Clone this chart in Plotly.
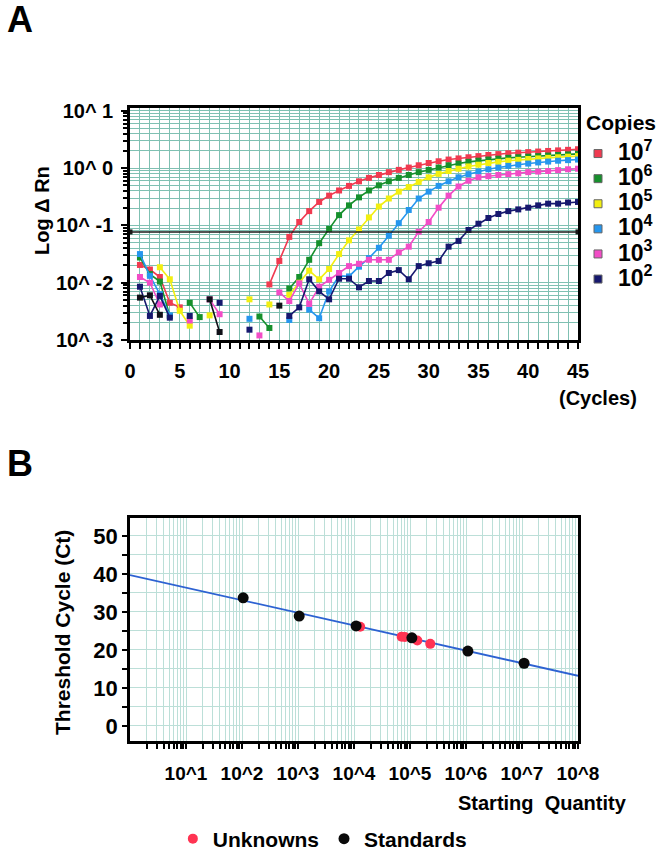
import plotly.graph_objects as go

W, H = 666, 853
N = None

# ---------------- Panel A data (log10 of delta Rn, read per cycle) ----------------
cycles = list(range(1, 46))
copies_labels = ["10<sup>7</sup>", "10<sup>6</sup>", "10<sup>5</sup>",
                 "10<sup>4</sup>", "10<sup>3</sup>", "10<sup>2</sup>"]
copies_colors = ["#f03a50", "#16902c", "#f2ef10", "#2596ee", "#f24cc6", "#16186e"]

log_rn_1e7 = [-1.69, -1.77, -1.90, -2.35, -2.43, N, N, N, N, N, N, N, N,
              -2.03, -1.62, -1.20, -0.94, -0.75, -0.59, -0.48, -0.39, -0.31, -0.23,
              -0.17, -0.12, -0.07, -0.03, 0.01, 0.05, 0.09, 0.12, 0.15, 0.17, 0.19,
              0.21, 0.23, 0.245, 0.26, 0.27, 0.28, 0.29, 0.30, 0.31, 0.32, 0.33]
log_rn_1e6 = [-1.56, -1.85, -1.98, -2.58, N, -2.35, -2.60, N, N, N, N, N,
              -2.59, -2.79, N, -2.10, -1.90, -1.60, -1.31, -1.06, -0.82, -0.65,
              -0.51, -0.39, -0.30, -0.23, -0.17, -0.12, -0.07, -0.03, 0.01, 0.05,
              0.08, 0.11, 0.13, 0.15, 0.165, 0.18, 0.19, 0.20, 0.21, 0.22, 0.23, 0.24, 0.25]
log_rn_1e5 = [N, N, -1.73, -1.94, -2.49, -2.75, N, -2.57, N, N, N, -2.29, N,
              -2.38, N, -2.21, -2.00, -1.79, -1.94, -1.76, -1.50, -1.26, -1.07,
              -0.86, -0.67, -0.53, -0.41, -0.33, -0.24, -0.16, -0.10, -0.05, -0.01,
              0.03, 0.06, 0.09, 0.11, 0.13, 0.145, 0.16, 0.17, 0.18, 0.19, 0.20, 0.21]
log_rn_1e4 = [-1.50, -1.88, -2.20, -2.57, N, N, N, N, N, N, N, -2.63, N, N, N,
              -2.65, N, -2.47, -2.62, -2.15, -1.88, -1.89, -1.72, -1.57, -1.39,
              -1.18, -0.96, -0.73, -0.53, -0.41, -0.31, -0.23, -0.16, -0.105, -0.06,
              -0.02, 0.01, 0.04, 0.06, 0.08, 0.10, 0.115, 0.13, 0.14, 0.15]
log_rn_1e3 = [-1.90, -2.00, -2.38, N, N, -2.66, N, -2.29, -2.55, N, N, N, -2.92,
              N, -2.17, -2.32, -2.01, -2.37, -2.07, -1.95, -1.83, -1.71, -1.67,
              -1.60, -1.60, -1.60, -1.47, -1.37, -1.11, -0.94, -0.69, -0.48, -0.32,
              -0.22, -0.16, -0.14, -0.12, -0.105, -0.09, -0.07, -0.06, -0.05, -0.035,
              -0.02, -0.01]
log_rn_1e2 = [-2.07, -2.58, -2.23, -2.61, N, -2.58, N, N, -2.35, N, N, -2.82,
              N, N, N, -2.58, -2.43, -1.94, -2.15, -2.29, -1.93, -1.93, -2.08,
              -1.97, -1.97, -1.83, -1.78, -1.94, -1.71, -1.66, -1.62, -1.37, -1.27,
              -1.08, -0.97, -0.87, -0.80, -0.75, -0.72, -0.69, -0.65, -0.62, -0.62,
              -0.60, -0.59]
log_rn_black = [-2.26, -2.22, -2.56, N, N, N, N, -2.29, -2.86, N, N, N, N, N,
                -2.40, N, N, N, N, N, N, N, N, N, N, N, N, N, N, N, N, N, N, N,
                N, N, N, N, N, N, N, N, N, N, N]
threshold_cycles = [0, 45]
threshold_rn = [0.077, 0.077]

# ---------------- Panel B data ----------------
std_qty = [1.05e2, 1.05e3, 1.09e4, 1.08e5, 1.08e6, 1.09e7]
std_ct = [33.7, 28.9, 26.3, 23.2, 19.7, 16.5]
unk_qty = [1.29e4, 7.1e4, 8.1e4, 1.35e5, 2.3e5]
unk_ct = [26.1, 23.5, 23.4, 22.5, 21.6]
fit_qty = [1.0, 1.0e8]
fit_ct = [39.7, 13.2]

FONT = "Liberation Sans, Arial, sans-serif"


def px(x):
    return x / W


def py(y):
    return 1 - y / H


def to_lin(vals):
    return [None if v is None else 10 ** v for v in vals]


fig = go.Figure()

series = [log_rn_1e7, log_rn_1e6, log_rn_1e5, log_rn_1e4, log_rn_1e3, log_rn_1e2]
for vals, col in zip(series, copies_colors):
    fig.add_trace(go.Scatter(
        x=cycles, y=to_lin(vals), mode="lines+markers", connectgaps=False,
        line=dict(color=col, width=1.6),
        marker=dict(symbol="square", size=6, color=col),
        showlegend=False, xaxis="x", yaxis="y", hoverinfo="skip"))
fig.add_trace(go.Scatter(
    x=cycles, y=to_lin(log_rn_black), mode="lines+markers", connectgaps=False,
    line=dict(color="#101018", width=1.6),
    marker=dict(symbol="square", size=6, color="#101018"),
    showlegend=False, xaxis="x", yaxis="y"))
fig.add_trace(go.Scatter(
    x=threshold_cycles, y=threshold_rn, mode="lines+markers",
    line=dict(color="#1a1a1a", width=1.6),
    marker=dict(symbol="square", size=5, color="#1a1a1a"),
    showlegend=False, xaxis="x", yaxis="y"))

# legend entries for panel A
for lab, col in zip(copies_labels, copies_colors):
    fig.add_trace(go.Scatter(
        x=[None], y=[None], mode="markers",
        name='<span style="font-size:23px">' + lab + "</span>",
        marker=dict(symbol="square", size=8, color=col,
                    line=dict(color="#666666", width=1)),
        xaxis="x", yaxis="y", legend="legend"))

# Panel B
fig.add_trace(go.Scatter(
    x=fit_qty, y=fit_ct, mode="lines", line=dict(color="#2d62d2", width=1.8),
    showlegend=False, xaxis="x2", yaxis="y2"))
fig.add_trace(go.Scatter(
    x=unk_qty, y=unk_ct, mode="markers", name="Unknowns",
    marker=dict(symbol="circle", size=10, color="#ff3352"),
    xaxis="x2", yaxis="y2", legend="legend2"))
fig.add_trace(go.Scatter(
    x=std_qty, y=std_ct, mode="markers", name="Standards",
    marker=dict(symbol="circle", size=11, color="#0a0a0a"),
    xaxis="x2", yaxis="y2", legend="legend2"))

GRID_A = "#7fc0b2"
GRID_B = "#bcdfd8"
dom_x = [px(130), px(578)]

minor_log_a = [k * 10.0 ** e for e in range(-3, 1) for k in range(2, 10)]
minor_log_b = [k * 10.0 ** e for e in range(0, 8) for k in range(2, 10)]

tickfont_a = dict(family=FONT, size=20, color="black", weight="bold")
tickfont_b = dict(family=FONT, size=19, color="black", weight="bold")


def ann(text, x, y, size, angle=0, xanchor="center"):
    return dict(text=text, x=px(x), y=py(y), xref="paper", yref="paper",
                xanchor=xanchor, yanchor="middle", textangle=angle,
                showarrow=False,
                font=dict(family=FONT, size=size, weight="bold", color="black"))


fig.update_layout(
    template="none",
    width=W, height=H, margin=dict(l=0, r=0, t=0, b=0, pad=0, autoexpand=False),
    paper_bgcolor="white", plot_bgcolor="white",
    font=dict(family=FONT, color="black"),
    hovermode=False,
    xaxis=dict(domain=dom_x, anchor="y", range=[0, 45], automargin=False,
               tickvals=[0, 5, 10, 15, 20, 25, 30, 35, 40, 45],
               ticks="outside", ticklen=6, tickwidth=2, tickcolor="black",
               showgrid=True, gridcolor=GRID_A, gridwidth=1,
               minor=dict(dtick=1, ticks="outside", ticklen=6, tickwidth=2,
                          tickcolor="black", showgrid=True, gridcolor=GRID_A),
               showline=True, linewidth=2.5, linecolor="black", mirror=True,
               zeroline=False, tickfont=tickfont_a, ticklabelstandoff=5),
    yaxis=dict(domain=[py(340), py(108)], anchor="x", type="log", automargin=False,
               range=[-3, 1.05],
               tickvals=[1e-3, 1e-2, 1e-1, 1, 10],
               ticktext=["10^ -3", "10^ -2", "10^ -1", "10^ 0", "10^ 1"],
               ticks="outside", ticklen=6, tickwidth=2, tickcolor="black",
               showgrid=True, gridcolor=GRID_A, gridwidth=1,
               minor=dict(tickvals=minor_log_a, ticks="outside", ticklen=4,
                          tickwidth=1.5, tickcolor="black", showgrid=True,
                          gridcolor=GRID_A),
               showline=True, linewidth=2.5, linecolor="black", mirror=True,
               zeroline=False, tickfont=tickfont_a, ticklabelstandoff=4),
    xaxis2=dict(domain=dom_x, anchor="y2", type="log", range=[0, 8], automargin=False,
                tickvals=[1e1, 1e2, 1e3, 1e4, 1e5, 1e6, 1e7, 1e8],
                ticktext=["10^1", "10^2", "10^3", "10^4", "10^5", "10^6", "10^7", "10^8"],
                ticks="outside", ticklen=5, tickwidth=2, tickcolor="black",
                showgrid=True, gridcolor=GRID_B, gridwidth=1,
                minor=dict(tickvals=minor_log_b, ticks="outside", ticklen=5,
                           tickwidth=1.5, tickcolor="black", showgrid=True,
                           gridcolor=GRID_B),
                showline=True, linewidth=2.5, linecolor="black", mirror=True,
                zeroline=False, tickfont=tickfont_b, ticklabelstandoff=8),
    yaxis2=dict(domain=[py(741), py(518)], anchor="x2", range=[-3.95, 54.7],
                automargin=False,
                tickvals=[0, 10, 20, 30, 40, 50],
                ticks="outside", ticklen=5, tickwidth=2, tickcolor="black",
                showgrid=True, gridcolor=GRID_B, gridwidth=1,
                minor=dict(dtick=5, ticks="outside", ticklen=5, tickwidth=1.5,
                           tickcolor="black", showgrid=True, gridcolor=GRID_B),
                showline=True, linewidth=2.5, linecolor="black", mirror=True,
                zeroline=False, tickfont=dict(family=FONT, size=22, color="black",
                                              weight="bold"),
                ticklabelstandoff=0),
    legend=dict(x=px(578), y=py(136), xanchor="left", yanchor="top",
                bgcolor="rgba(0,0,0,0)", traceorder="normal", borderwidth=0,
                font=dict(family=FONT, size=17, weight="bold", color="black"),
                itemwidth=30, tracegroupgap=0),
    legend2=dict(x=0.484, y=py(839), xanchor="center", yanchor="middle",
                 orientation="h", bgcolor="rgba(0,0,0,0)", borderwidth=0,
                 font=dict(family=FONT, size=21, weight="bold", color="black"),
                 itemwidth=30),
    annotations=[
        ann("A", 20, 19, 36),
        ann("B", 20, 463, 36),
        ann("Log Δ Rn", 42, 210, 20, -90),
        ann("(Cycles)", 598, 398, 20),
        ann("Threshold Cycle (Ct)", 62, 633, 21, -90),
        ann("Starting  Quantity", 542, 803, 20),
        ann("Copies", 584, 123, 21, xanchor="left"),
    ],
)

fig.write_html(
    "out.html",
    config={"displayModeBar": False},
    post_script="document.body.style.margin='0';"
                "document.body.style.padding='0';"
                "document.body.style.overflow='hidden';",
)
